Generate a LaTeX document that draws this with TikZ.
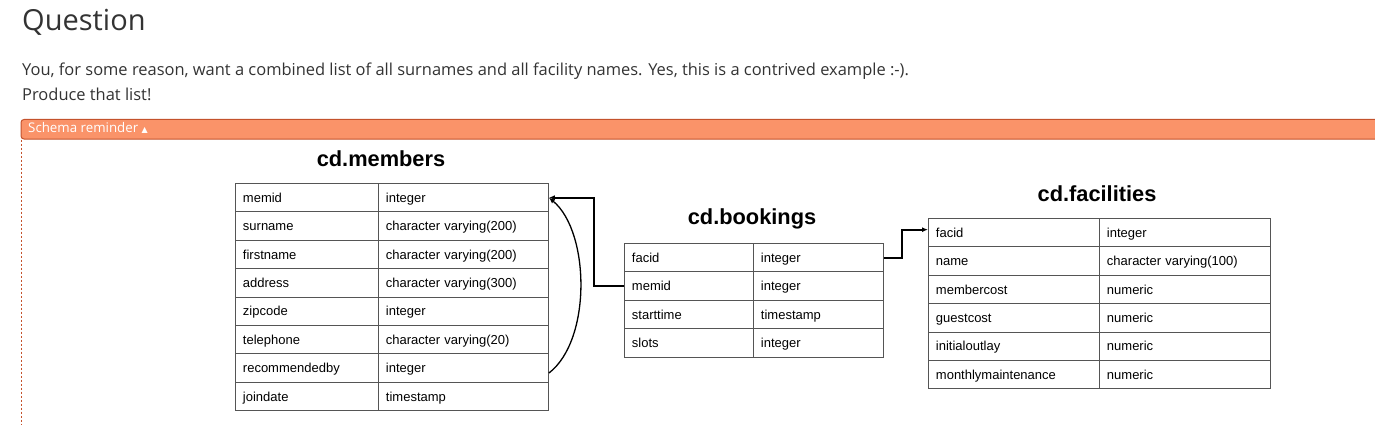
\documentclass[tikz,border=0pt]{standalone}
\usepackage{fontspec}
\setmainfont{Open Sans}
\newfontfamily\tabfont{Liberation Sans}
\newfontfamily\symfont{DejaVu Sans}
\usetikzlibrary{arrows.meta}
\definecolor{txt}{HTML}{333333}
\definecolor{barfill}{HTML}{FA9369}
\definecolor{barline}{HTML}{C4522C}
\definecolor{gridc}{HTML}{555555}
\begin{document}
\begin{tikzpicture}[x=1pt,y=-1pt,
  cell/.style={draw=gridc, line width=0.9pt, anchor=north west, minimum height=28.4pt,
    inner xsep=7.5pt, inner ysep=0pt, text height=9.3pt, text depth=0pt, align=left,
    font=\tabfont\fontsize{13}{15}\selectfont, text=black},
  tabtitle/.style={anchor=base, inner sep=0pt, font=\tabfont\bfseries\fontsize{21.8}{25}\selectfont},
  hdtext/.style={anchor=base west, inner sep=0pt, text=txt},
  conn/.style={line width=1.7pt, -{Latex[length=6pt,width=5pt]}}
]
\useasboundingbox (0,0) rectangle (1375,425);
% header
\node[hdtext, font=\fontsize{29}{34}\selectfont] (q) at (22,30.7) {Question};
\node[hdtext, font=\fontsize{16.45}{20}\selectfont] (l1) at (22,76) {You, for some reason, want a combined list of all surnames and all facility names. Yes, this is a contrived example :-).};
\node[hdtext, font=\fontsize{16.45}{20}\selectfont] (l2) at (22,100.7) {Produce that list!};
% bar
\draw[barline, fill=barfill, line width=1pt, rounded corners=3pt] (1385,119.5) -- (21,119.5) -- (21,139) -- (1385,139);
\node[hdtext, text=white, font=\fontsize{13.3}{15}\selectfont] (bar) at (28,132.8) {Schema reminder {\symfont\fontsize{8}{10}\selectfont ▲}};
\draw[barline, dash pattern=on 2.5pt off 1.5pt, line width=0.9pt] (21,139.5) -- (21,425);
% members
\node[tabtitle] (mtitle) at (381,166) {cd.members};
\foreach \n/\t [count=\i] in {memid/integer, surname/character varying(200), firstname/character varying(200), address/character varying(300), zipcode/integer, telephone/character varying(20), recommendedby/integer, joindate/timestamp} {
  \node[cell, text width=128pt] (m\i-n) at (235, {183+(\i-1)*28.4}) {\n};
  \node[cell, text width=155pt] (m\i-t) at (378, {183+(\i-1)*28.4}) {\t};
}
% bookings
\node[tabtitle] (btitle) at (752,224) {cd.bookings};
\foreach \n/\t [count=\i] in {facid/integer, memid/integer, starttime/timestamp, slots/integer} {
  \node[cell, text width=114pt] (b\i-n) at (624, {243+(\i-1)*28.4}) {\n};
  \node[cell, text width=115pt] (b\i-t) at (753, {243+(\i-1)*28.4}) {\t};
}
% facilities
\node[tabtitle] (ftitle) at (1097,201) {cd.facilities};
\foreach \n/\t [count=\i] in {facid/integer, name/character varying(100), membercost/numeric, guestcost/numeric, initialoutlay/numeric, monthlymaintenance/numeric} {
  \node[cell, text width=156pt] (f\i-n) at (928, {218+(\i-1)*28.4}) {\n};
  \node[cell, text width=156pt] (f\i-t) at (1099, {218+(\i-1)*28.4}) {\t};
}
% connectors
\coordinate (j1) at (594,0);
\coordinate (j2) at (901.7,0);
\draw[conn] (b2-n.west) -- (b2-n.west -| j1) -- (m1-t.east -| j1) -- (m1-t.east);
\draw[conn, line width=1.3pt] ([yshift=-5pt]m7-t.east) .. controls +(43,-33) and +(41,34) .. (m1-t.east);
\draw[conn] (b1-t.east) -- (b1-t.east -| j2) -- ([yshift=3pt]f1-n.west -| j2) -- ([yshift=3pt]f1-n.west);
\end{tikzpicture}
\end{document}
